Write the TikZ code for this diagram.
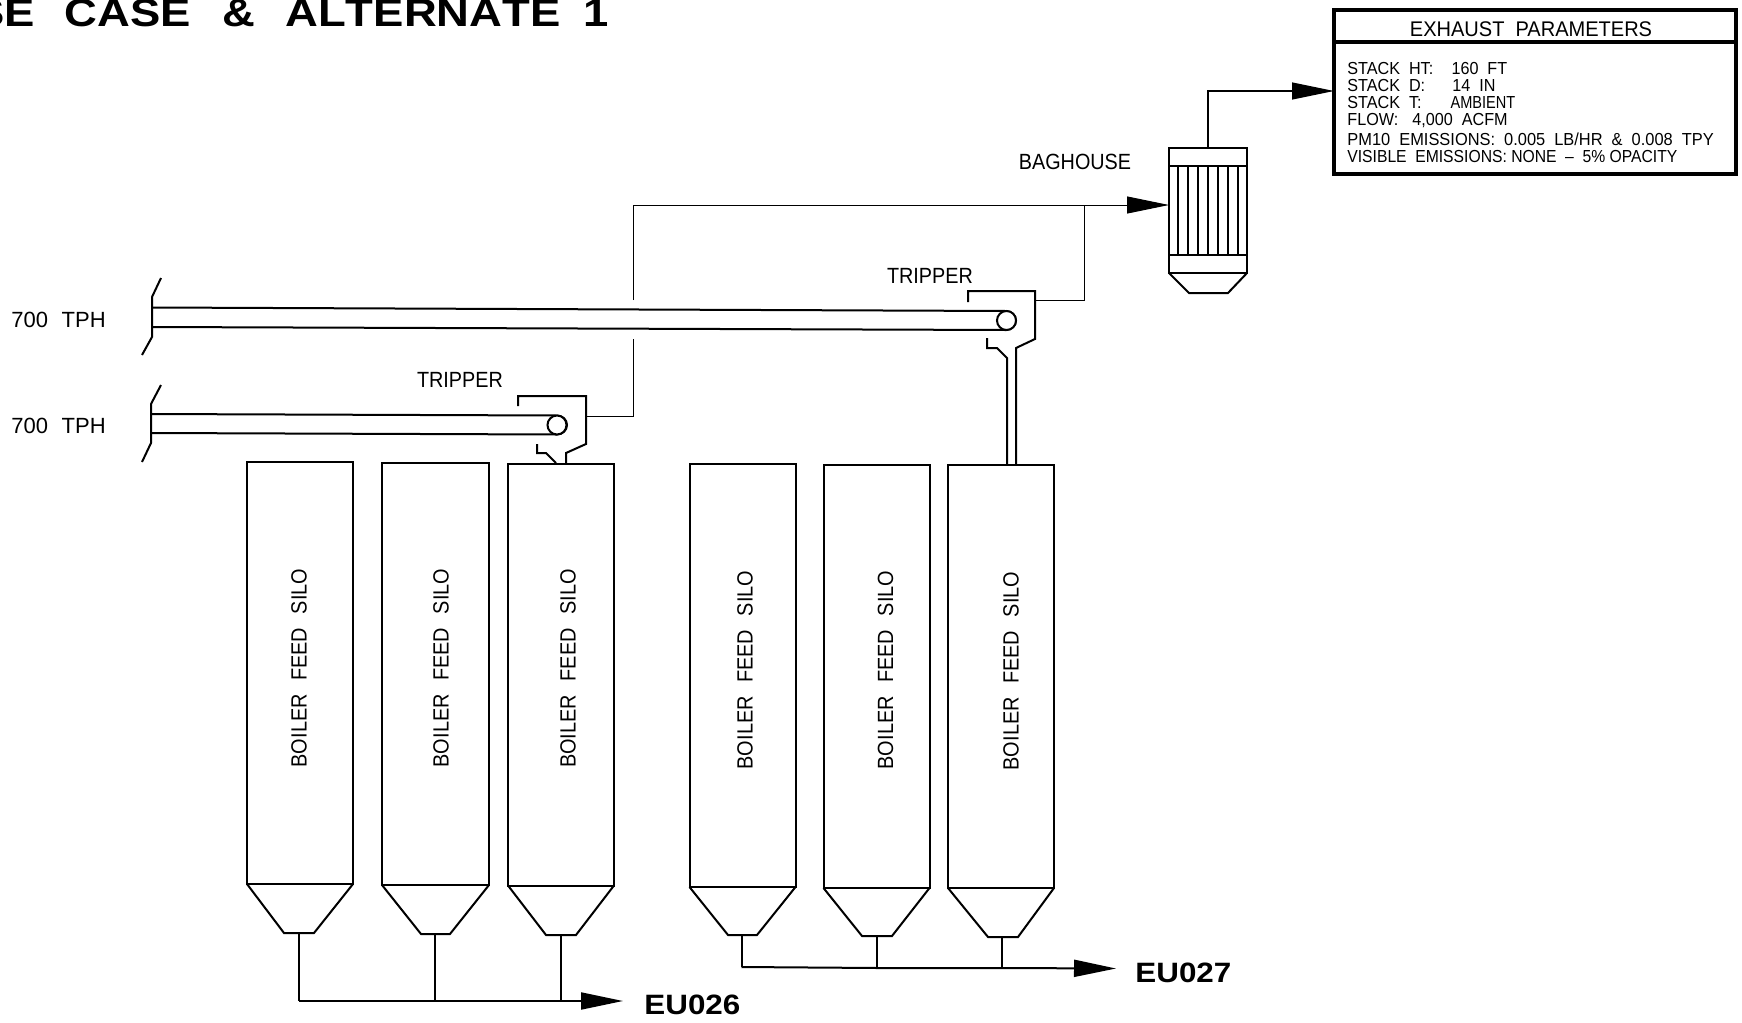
\documentclass[tikz,border=0pt]{standalone}
\usepackage{fontspec}
\setmainfont{Liberation Sans}
\usetikzlibrary{arrows.meta}
\newcommand{\wsp}{\hspace{.55em}}
\newcommand{\vsp}{\hspace{.68em}}
\tikzset{
  thickline/.style={line width=1pt,line join=miter},
  thinline/.style={line width=.5pt,line join=miter},
  flow/.style={line width=.8pt,-{Triangle[length=21pt,width=8.5pt]}},
  lbl/.style={inner sep=0pt,transform shape,xscale=.9,font=\fontsize{11}{13}\selectfont},
  vlbl/.style={inner sep=0pt,transform shape,rotate=90,xscale=.905,font=\fontsize{11}{13}\selectfont},
  tbl/.style={inner sep=0pt,anchor=west,transform shape,xscale=.93,font=\fontsize{8.7}{10}\selectfont},
  eu/.style={inner sep=0pt,anchor=west,transform shape,xscale=1.12,font=\fontsize{14}{16}\bfseries\selectfont},
  silobody/.style={draw,thickline,anchor=north west,inner sep=0pt,outer sep=0pt,minimum height=211pt},
  pulley/.style={draw,thickline,circle,inner sep=0pt,outer sep=0pt,minimum size=9.5pt,fill=white}
}
\begin{document}
\begin{tikzpicture}[x=.5pt,y=-.5pt]
\useasboundingbox (0,0) rectangle (1742,1023);

% title
\begin{scope}
\clip (0,0) rectangle (1742,1023);
\node[inner sep=0pt,anchor=base east,transform shape,xscale=1.165,font=\fontsize{19.5}{22}\bfseries\selectfont\addfontfeature{Kerning=Off}] (title) at (609,26.5)
  {SE\hspace{.66em}CASE\hspace{.7em}\&\hspace{.66em}ALTERNATE\hspace{.5em}1};
\end{scope}

% silos, group 1
\node[silobody,minimum width=53pt] (s1) at (247,462) {};
\node[silobody,minimum width=53.5pt] (s2) at (382,463) {};
\node[silobody,minimum width=53pt] (s3) at (508,463.5) {};
% silos, group 2
\node[silobody,minimum width=53pt,minimum height=211.5pt] (s4) at (689.5,464) {};
\node[silobody,minimum width=53pt,minimum height=211.5pt] (s5) at (823.5,465) {};
\node[silobody,minimum width=53pt,minimum height=211.5pt] (s6) at (948,465) {};

\node[vlbl] (t1) at (299,668) {BOILER\vsp FEED\vsp SILO};
\node[vlbl] (t2) at (441,668) {BOILER\vsp FEED\vsp SILO};
\node[vlbl] (t3) at (568,668.5) {BOILER\vsp FEED\vsp SILO};
\node[vlbl] (t4) at (745,670) {BOILER\vsp FEED\vsp SILO};
\node[vlbl] (t5) at (885.5,670) {BOILER\vsp FEED\vsp SILO};
\node[vlbl] (t6) at (1011,671) {BOILER\vsp FEED\vsp SILO};

% hoppers
\coordinate (o1) at (299,933);
\coordinate (o2) at (435,934);
\coordinate (o3) at (561,935);
\coordinate (o4) at (741.5,935);
\coordinate (o5) at (877,936);
\coordinate (o6) at (1002,937);
\draw[thickline] (s1.south west) -- (284,933) -- (314,933) -- (s1.south east);
\draw[thickline] (s2.south west) -- (421,934) -- (450,934) -- (s2.south east);
\draw[thickline] (s3.south west) -- (546,935) -- (576,935) -- (s3.south east);
\draw[thickline] (s4.south west) -- (728,935) -- (757,935) -- (s4.south east);
\draw[thickline] (s5.south west) -- (862,936) -- (892,936) -- (s5.south east);
\draw[thickline] (s6.south west) -- (988,937) -- (1018,937) -- (s6.south east);

% outlet buses
\coordinate (b1) at (299,1001);
\coordinate (b2) at (435,1001);
\coordinate (b3) at (561,1001);
\coordinate (e26) at (623,1001);
\coordinate (b4) at (741.5,967);
\coordinate (b5) at (877,968);
\coordinate (b6) at (1002,968);
\coordinate (e27) at (1116,968.5);
\draw[thickline] (o1) -- (b1);
\draw[thickline] (o2) -- (b2);
\draw[thickline] (o3) -- (b3);
\draw[thickline] (o4) -- (b4);
\draw[thickline] (o5) -- (b5);
\draw[thickline] (o6) -- (b6);
\draw[flow,line width=1pt] (b1) -- (b2) -- (b3) -- (e26);
\draw[flow,line width=1pt] (b4) -- (b5) -- (b6) -- (e27);
\node[eu] (eu26) at (644,1005) {EU026};
\node[eu] (eu27) at (1135,973) {EU027};

% upper conveyor
\draw[thickline] (161,278) -- (152,297) -- (152,337) -- (142,355);
\draw[thickline] (152,307.5) -- (1006,311) arc[start angle=-90,end angle=90,x radius=10,y radius=9.5] -- (152,327);
\node[pulley] (p1) at (1006.5,320.5) {};
% lower conveyor
\draw[thickline] (161,385) -- (151,404) -- (151,443) -- (142,462);
\draw[thickline] (151,414) -- (557,415.5) arc[start angle=-90,end angle=90,x radius=10,y radius=9.5] -- (151,433);
\node[pulley] (p2) at (557,425) {};

% upper tripper
\draw[thickline] (968,302) -- (968,291) -- (1035,291) -- (1035,339) -- (1016,348) -- (1016,465);
\draw[thickline] (987,338) -- (987,348) -- (997,348) -- (1007,358) -- (1007,465);
% lower tripper
\draw[thickline] (518,406) -- (518,396) -- (586,396) -- (586,444) -- (566,453) -- (566,463);
\draw[thickline] (537,444) -- (537,453) -- (546,453) -- (556,463);

\node[lbl,anchor=center] (trip1) at (930,276) {TRIPPER};
\node[lbl,anchor=center] (trip2) at (460,380) {TRIPPER};
\node[lbl,anchor=west,xscale=1.111] (tph1) at (11,320) {700\hspace{.62em}TPH};
\node[lbl,anchor=west,xscale=1.111] (tph2) at (11,426) {700\hspace{.62em}TPH};
\node[lbl,anchor=center] (baglbl) at (1075,162) {BAGHOUSE};

% baghouse
\node[draw,thickline,anchor=north west,inner sep=0pt,outer sep=0pt,minimum width=39pt,minimum height=62.5pt] (bh) at (1169,148) {};
\draw[thickline] (bh.west |- 0,166) -- (bh.east |- 0,166);
\draw[thickline] (bh.west |- 0,255) -- (bh.east |- 0,255);
\foreach \x in {1178,1188,1198,1208,1218,1228,1238}
  \draw[line width=.9pt] (\x,166) -- (\x,255);
\draw[thickline] (bh.south west) -- (1189,293) -- (1228,293) -- (bh.south east);

% vent lines to baghouse
\coordinate (v1) at (586,416);
\coordinate (v2) at (633,416);
\coordinate (v3) at (633,339);
\coordinate (v4) at (633,300);
\coordinate (v5) at (633,205);
\coordinate (v6) at (1035,300.5);
\coordinate (v7) at (1084,300.5);
\coordinate (v8) at (1084,205);
\draw[thinline] (v1) -- (v2) -- (v3);
\draw[thinline] (v4) -- (v5) -- (v8);
\draw[flow,line width=.5pt] (v8) -- (bh.west |- v8);
\draw[thinline] (v6) -- (v7) -- (v8);

% exhaust box
\node[draw,line width=2pt,anchor=north west,inner sep=0pt,outer sep=0pt,minimum width=201pt,minimum height=82pt] (ex) at (1334,10) {};
\draw[line width=1.6pt] (ex.west |- 0,42) -- (ex.east |- 0,42);
\node[lbl,anchor=center,xscale=1.05,font=\fontsize{10.6}{13}\selectfont] (extitle) at (1531,29) {EXHAUST\wsp PARAMETERS};
\coordinate (bhout) at (1208,148);
\coordinate (bend) at (1208,91);
\draw[flow,line width=.6pt] (bhout) -- (bend) -- (ex.west |- bend);
\node[tbl] (l1) at (1347,69) {\makebox[56pt][l]{STACK\wsp HT:}160\wsp FT};
\node[tbl] (l2) at (1347,86) {\makebox[56.5pt][l]{STACK\wsp D:}14\wsp IN};
\node[tbl] (l3) at (1347,103) {\makebox[55.5pt][l]{STACK\wsp T:}\scalebox{.9}[1]{AMBIENT}};
\node[tbl] (l4) at (1347,120.5) {\makebox[35pt][l]{FLOW:}4,000\wsp ACFM};
\node[tbl,xscale=1.015] (l5) at (1347,139) {PM10\wsp EMISSIONS:\wsp 0.005\wsp LB/HR\wsp \&\wsp 0.008\wsp TPY};
\node[tbl,xscale=.97] (l6) at (1347,157) {VISIBLE\wsp EMISSIONS: NONE\wsp –\wsp 5\% OPACITY};
\end{tikzpicture}
\end{document}
